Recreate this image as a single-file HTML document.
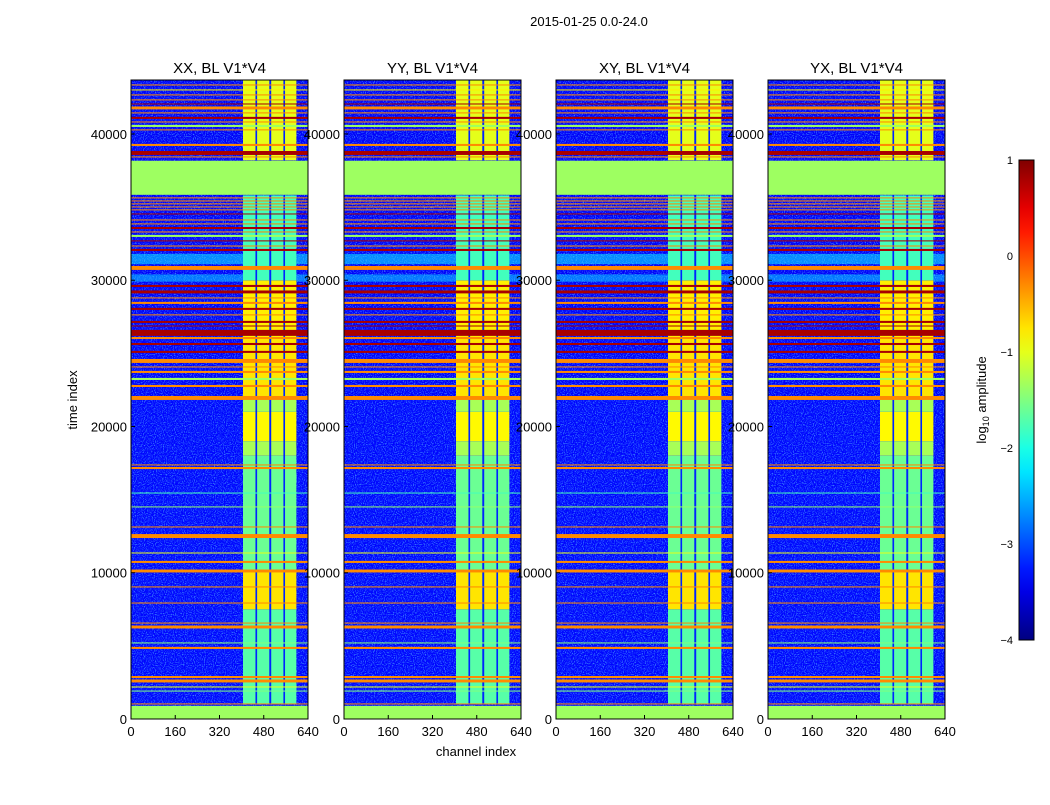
<!DOCTYPE html>
<html><head><meta charset="utf-8">
<style>
body{margin:0;background:#fff;}
svg text{font-family:"Liberation Sans",sans-serif;fill:#000;}
</style></head>
<body>
<svg id="fig" width="1050" height="800" viewBox="0 0 1050 800" xmlns="http://www.w3.org/2000/svg">
<defs>
<filter id="noise" x="0" y="0" width="100%" height="100%">
<feTurbulence type="fractalNoise" baseFrequency="0.9" numOctaves="1" seed="3"/>
<feColorMatrix type="matrix" values="0 0 0 0 0.1  0 0 0 0 0.55  0 0 0 0 1  3 0 0 0 -1.4"/>
</filter>
<linearGradient id="jetgrad" x1="0" y1="1" x2="0" y2="0"></linearGradient>
</defs>
<text x="589" y="26" font-size="13" text-anchor="middle">2015-01-25 0.0-24.0</text>
<g id="panels"></g>
<text transform="translate(77,400) rotate(-90)" font-size="13" text-anchor="middle">time index</text>
<text x="476" y="756" font-size="13" text-anchor="middle">channel index</text>
<g id="cbar"></g>
<text transform="translate(986,400) rotate(-90)" font-size="13" text-anchor="middle">log<tspan font-size="9" dy="3">10</tspan><tspan dy="-3"> amplitude</tspan></text>
</svg>
<script>
const titles = ["XX, BL V1*V4","YY, BL V1*V4","XY, BL V1*V4","YX, BL V1*V4"];
const xTicks = [0,160,320,480,640];
const yTicks = [0,10000,20000,30000,40000];
const cbTicks = [1,0,-1,-2,-3,-4];
// background blocks [t0,t1,log10 value]
const bgBlocks = [[0,22000,-3.35],[22000,43690,-3.4],[31100,31800,-2.7],[29900,30400,-2.8]];
// stripe-region blocks [t0,t1,value]
const stripeBlocks = [[1000,7500,-1.7],[7500,10100,-0.75],[10100,18000,-1.6],[18000,19000,-1.3],[19000,21000,-0.85],[21000,22000,-1.3],[22000,26000,-0.75],[26000,30000,-0.8],[30000,35800,-1.8],[38200,43690,-1.0]];
// stripe channel ranges
const stripeCh = [[405,450],[456,500],[507,551],[557,598]];
// horizontal lines [t, thickness, value]
const lines = [
[43350,70,-0.3],[43010,70,-0.8],[42670,70,-0.3],[42330,70,-0.3],[42050,70,0.8],[41780,200,-0.3],[41440,70,-0.3],[41100,140,0.8],[40820,70,-0.3],[40550,140,-1.35],[40280,70,-0.3],
[39250,140,-0.3],[38700,270,0.8],[38430,70,-0.3],[38090,70,0.8],
[35630,70,-0.3],[35420,70,-0.3],[35220,70,-0.3],[35010,70,-0.3],[34810,70,-0.3],[34530,70,0.8],[34120,70,-0.3],[33850,70,-0.3],[33570,140,0.8],[33300,70,-0.3],[33030,140,-1.35],[32690,70,0.8],[32340,70,-0.3],[32070,140,0.8],[30840,270,-0.3],
[29610,140,0.8],[29200,200,0.8],[28790,70,-0.3],[28450,140,-0.3],[28040,140,0.8],[27630,70,-0.3],[27150,140,0.8],[26870,70,0.8],[26400,410,0.8],[26050,140,-0.3],[25640,140,0.8],[25100,140,0.8],[24480,270,-0.3],[24070,70,-0.3],[23730,140,-0.3],[23250,140,-1.35],[22770,140,-0.3],[21950,270,-0.3],
[17370,70,-0.3],[17160,140,-0.3],[15450,50,-1.8],[14500,60,-1.4],[13130,70,-0.3],[12510,270,-0.3],[11350,70,-1.0],[10740,140,-0.3],[10120,200,-0.3],[9030,70,-0.3],[7930,70,-0.3],[6560,70,-0.3],[6290,200,-0.3],[5200,70,-1.5],[4860,140,-0.3],[2870,140,-0.3],[2600,200,-0.3],[2190,70,-1.0],[1910,70,-1.5],[1030,70,-0.3],[140,70,-0.3]
];
const greenBlocks = [[0,900,-1.35],[35840,38170,-1.35]];

const NS="http://www.w3.org/2000/svg";
function jet(v){
  let u=(v+4)/5; u=Math.max(0,Math.min(1,u));
  const c=x=>Math.round(255*Math.max(0,Math.min(1,1.5-Math.abs(4*u-x))));
  return `rgb(${c(3)},${c(2)},${c(1)})`;
}
function mk(tag,attrs,parent){const e=document.createElementNS(NS,tag);for(const k in attrs)e.setAttribute(k,attrs[k]);parent.appendChild(e);return e;}
const panelX=[131,344,556,768], pw=177, yTop=80, yBot=719, tMax=43690;
const panels=document.getElementById('panels');
panelX.forEach((px,i)=>{
  const g=mk('g',{},panels);
  
  
  const xs=c=>px+c/640*pw;
  const ys=t=>yBot-t/tMax*(yBot-yTop);
  bgBlocks.forEach(b=>{const r=mk('rect',{x:px,y:ys(b[1]),width:pw,height:ys(b[0])-ys(b[1]),fill:jet(b[2])},g);
    
    });
  const n=mk('rect',{x:px,y:yTop,width:pw,height:yBot-yTop,filter:'url(#noise)',opacity:0.75},g);
  
  
  stripeBlocks.forEach(b=>{
    const gap=mk('rect',{x:xs(stripeCh[0][0]),y:ys(b[1]),width:xs(stripeCh[3][1])-xs(stripeCh[0][0]),height:ys(b[0])-ys(b[1]),fill:jet(-3.2)},g);
    
    
    stripeCh.forEach(s=>{const r=mk('rect',{x:xs(s[0]),y:ys(b[1]),width:xs(s[1])-xs(s[0]),height:ys(b[0])-ys(b[1]),fill:jet(b[2])},g);
      
      });
  });
  lines.forEach(l=>{const h=Math.max(1,l[1]/tMax*(yBot-yTop));const r=mk('rect',{x:px,y:ys(l[0])-h/2,width:pw,height:h,fill:jet(l[2])},g);
    
    });
  greenBlocks.forEach(b=>{const r=mk('rect',{x:px,y:ys(b[1]),width:pw,height:ys(b[0])-ys(b[1]),fill:jet(b[2])},g);
    
    });
  const f=mk('rect',{x:px,y:yTop,width:pw,height:yBot-yTop,fill:'none',stroke:'#000','stroke-width':1},g);
  
  
  const t=mk('text',{x:px+pw/2,y:73,'font-size':15,'text-anchor':'middle'},g);t.textContent=titles[i];
  
  
  xTicks.forEach(v=>{const tx=mk('text',{x:xs(v),y:736,'font-size':13,'text-anchor':'middle'},g);tx.textContent=v;
    
    
    mk('line',{x1:xs(v),x2:xs(v),y1:yBot,y2:yBot-4,stroke:'#000'},g);});
  yTicks.forEach(v=>{const ty=mk('text',{x:px-4,y:ys(v)+5,'font-size':13,'text-anchor':'end'},g);ty.textContent=v;
    
    
    mk('line',{x1:px,x2:px+4,y1:ys(v),y2:ys(v),stroke:'#000'},g);});
});
const grad=document.getElementById('jetgrad');
for(let k=0;k<=20;k++){const v=-4+k*5/20;mk('stop',{offset:(k/20),'stop-color':jet(v)},grad);}
const cb=document.getElementById('cbar');
const cy=v=>640-(v+4)/5*480;
const cr=mk('rect',{x:1019,y:160,width:15,height:480,fill:'url(#jetgrad)',stroke:'#000','stroke-width':1},cb);


cbTicks.forEach(v=>{const t=mk('text',{x:1013,y:cy(v)+4,'font-size':11,'text-anchor':'end'},cb);t.textContent=(v<0?'\u2212'+(-v):v);
  
  });
</script>
</body></html>
